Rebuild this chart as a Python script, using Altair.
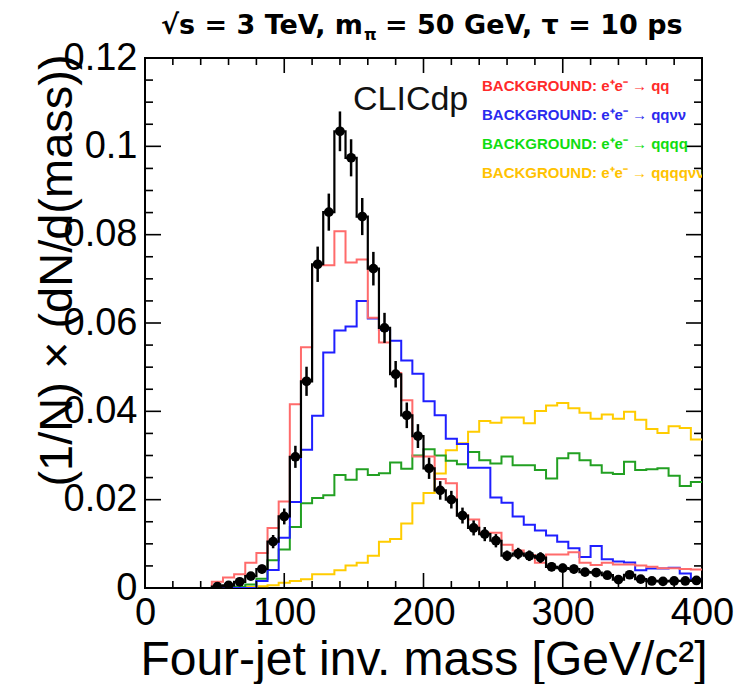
import altair as alt
import pandas as pd

# ---------------- data (8 GeV bins, 0..400) ----------------
bin_edges = [8 * i for i in range(50)]

signal = [0, 0, 0, 0, 0, 0, 0.0003, 0.0006, 0.0014, 0.0027,
          0.0043, 0.0105, 0.0162, 0.0297, 0.0468, 0.0733, 0.0851, 0.1034, 0.0974, 0.0841,
          0.0723, 0.0589, 0.0484, 0.0391, 0.0344, 0.0271, 0.0221, 0.0200, 0.0164, 0.0136,
          0.0122, 0.0107, 0.0073, 0.0078, 0.0073, 0.0069, 0.0048, 0.0045, 0.0043, 0.0036,
          0.0035, 0.0029, 0.0019, 0.0030, 0.0020, 0.0016, 0.0015, 0.0016, 0.0016, 0.0017]
signal_err = [0, 0, 0, 0, 0, 0, 0.0003, 0.0004, 0.0006, 0.0008,
              0.0010, 0.0015, 0.0018, 0.0025, 0.0033, 0.0040, 0.0042, 0.0045, 0.0042, 0.0042,
              0.0038, 0.0034, 0.0030, 0.0029, 0.0027, 0.0024, 0.0021, 0.0020, 0.0018, 0.0017,
              0.0016, 0.0015, 0.0012, 0.0013, 0.0012, 0.0012, 0.0010, 0.0010, 0.0010, 0.0009,
              0.0009, 0.0008, 0.0007, 0.0008, 0.0007, 0.0006, 0.0006, 0.0006, 0.0006, 0.0006]
bkg_qq = [0, 0, 0, 0, 0, 0, 0.0014, 0.0024, 0.0031, 0.0057,
          0.0079, 0.0136, 0.0196, 0.0416, 0.0545, 0.0731, 0.0731, 0.0808, 0.0737, 0.0744,
          0.0612, 0.0556, 0.0487, 0.0425, 0.0298, 0.0298, 0.0247, 0.0237, 0.0165, 0.0155,
          0.0125, 0.0125, 0.0098, 0.0085, 0.0075, 0.0057, 0.0076, 0.0076, 0.0081, 0.0057,
          0.0052, 0.0057, 0.0053, 0.0053, 0.0051, 0.0048, 0.0045, 0.0045, 0.0043, 0.0042]
bkg_qqnn = [0, 0, 0, 0, 0, 0, 0, 0, 0, 0,
            0.0016, 0.0041, 0.0114, 0.0195, 0.0313, 0.0390, 0.0533, 0.0583, 0.0592, 0.0650,
            0.0610, 0.0585, 0.0560, 0.0515, 0.0485, 0.0423, 0.0391, 0.0338, 0.0326, 0.0272,
            0.0272, 0.0205, 0.0193, 0.0162, 0.0143, 0.0130, 0.0119, 0.0105, 0.0090, 0.0070,
            0.0095, 0.0065, 0.0060, 0.0058, 0.0040, 0.0044, 0.0044, 0.0046, 0.0033, 0.0020]
bkg_qqqq = [0, 0, 0, 0, 0, 0, 0, 0, 0.0003, 0.0008,
            0.0021, 0.0063, 0.0087, 0.0138, 0.0192, 0.0204, 0.0210, 0.0256, 0.0245, 0.0269,
            0.0256, 0.0260, 0.0284, 0.0270, 0.0300, 0.0314, 0.0300, 0.0288, 0.0280, 0.0308,
            0.0289, 0.0282, 0.0298, 0.0278, 0.0278, 0.0267, 0.0248, 0.0294, 0.0305, 0.0289,
            0.0278, 0.0261, 0.0258, 0.0286, 0.0267, 0.0269, 0.0271, 0.0254, 0.0231, 0.0240]
bkg_qqqqnn = [0, 0, 0, 0, 0, 0, 0, 0, 0.0002, 0.0003,
              0.0004, 0.0006, 0.0012, 0.0016, 0.0020, 0.0031, 0.0031, 0.0040, 0.0051, 0.0057,
              0.0073, 0.0105, 0.0111, 0.0146, 0.0192, 0.0215, 0.0259, 0.0312, 0.0328, 0.0354,
              0.0378, 0.0374, 0.0386, 0.0386, 0.0373, 0.0401, 0.0413, 0.0419, 0.0407, 0.0397,
              0.0383, 0.0393, 0.0383, 0.0399, 0.0381, 0.0360, 0.0351, 0.0366, 0.0362, 0.0336]

x_ticks_major = [0, 100, 200, 300, 400]
x_ticks_minor = [20, 40, 60, 80, 120, 140, 160, 180, 220, 240, 260, 280, 320, 340, 360, 380]
y_ticks_major = [0, 0.02, 0.04, 0.06, 0.08, 0.1, 0.12]
y_ticks_minor = [0.005, 0.01, 0.015, 0.025, 0.03, 0.035, 0.045, 0.05, 0.055,
                 0.065, 0.07, 0.075, 0.085, 0.09, 0.095, 0.105, 0.11, 0.115]

legend_labels = ["BACKGROUND: e⁺e⁻ → qq", "BACKGROUND: e⁺e⁻ → qqνν",
                 "BACKGROUND: e⁺e⁻ → qqqq", "BACKGROUND: e⁺e⁻ → qqqqνν"]
legend_colors = ["#ff2a2a", "#2a2aee", "#10dd10", "#ffc200"]

# ---------------- layout ----------------
W, H = 557, 530
FONT = "Liberation Sans"

xs = alt.Scale(domain=[0, 400], nice=False, zero=False)
ys = alt.Scale(domain=[0, 0.12], nice=False)

xaxis = alt.Axis(values=x_ticks_major, ticks=False, tickSize=0, domain=False, grid=False,
                 labelFont=FONT, labelFontSize=38, labelColor="black", labelPadding=6,
                 labelFlush=False, labelOverlap=False,
                 title="Four-jet inv. mass [GeV/c²]", titleFont=FONT, titleFontSize=48,
                 titleFontWeight="normal", titleColor="black", titleX=W / 2, titleY=86,
                 titleAlign="center", titleBaseline="alphabetic")
yaxis = alt.Axis(values=y_ticks_major, format=".2~f", ticks=False, tickSize=0, domain=False,
                 grid=False, labelFont=FONT, labelFontSize=38, labelColor="black",
                 labelPadding=8, labelFlush=False, labelOverlap=False,
                 title="(1/N) × (dN/d(mass))", titleFont=FONT, titleFontSize=47,
                 titleFontWeight="normal", titleColor="black", titleX=-74, titleY=212,
                 titleAngle=270, titleAlign="center", titleBaseline="alphabetic")


def step_df(vals):
    return pd.DataFrame({"m": bin_edges + [400], "v": vals + [vals[-1]]})


def hist(vals, color, width):
    return alt.Chart(step_df(vals)).mark_line(
        interpolate="step-after", color=color, strokeWidth=width, clip=True
    ).encode(x=alt.X("m:Q", scale=xs, axis=xaxis), y=alt.Y("v:Q", scale=ys, axis=yaxis))


layers = [
    hist(bkg_qqqqnn, "#ffcc00", 2),
    hist(bkg_qqqq, "#22a022", 2),
    hist(bkg_qqnn, "#1f1fff", 2),
    hist(bkg_qq, "#ff6b6b", 2),
    hist(signal, "black", 2.2),
]

pts = pd.DataFrame({
    "c": [e + 4 for e in bin_edges],
    "v": signal,
    "lo": [s - e for s, e in zip(signal, signal_err)],
    "hi": [s + e for s, e in zip(signal, signal_err)],
})
pts = pts[pts["v"] > 0]

layers.append(alt.Chart(pts).mark_rule(color="black", strokeWidth=2.5, clip=True).encode(
    x=alt.X("c:Q", scale=xs, axis=xaxis), y=alt.Y("lo:Q", scale=ys, axis=yaxis), y2="hi:Q"))
layers.append(alt.Chart(pts).mark_circle(color="black", size=95, opacity=1, clip=True).encode(
    x=alt.X("c:Q", scale=xs, axis=xaxis), y=alt.Y("v:Q", scale=ys, axis=yaxis)))

# ---------------- inner ticks (ROOT style) ----------------
def yticks(vals, length):
    df = pd.DataFrame({"t": vals})
    left = alt.Chart(df).mark_rule(color="black", strokeWidth=1.6).encode(
        y=alt.Y("t:Q", scale=ys, axis=yaxis), x=alt.value(0), x2=alt.value(length))
    right = alt.Chart(df).mark_rule(color="black", strokeWidth=1.6).encode(
        y=alt.Y("t:Q", scale=ys, axis=yaxis), x=alt.value(W), x2=alt.value(W - length))
    return [left, right]


def xticks(vals, length):
    df = pd.DataFrame({"t": vals})
    bottom = alt.Chart(df).mark_rule(color="black", strokeWidth=1.6).encode(
        x=alt.X("t:Q", scale=xs, axis=xaxis), y=alt.value(H), y2=alt.value(H - length))
    top = alt.Chart(df).mark_rule(color="black", strokeWidth=1.6).encode(
        x=alt.X("t:Q", scale=xs, axis=xaxis), y=alt.value(0), y2=alt.value(length))
    return [bottom, top]


layers += yticks(y_ticks_major, 16) + yticks(y_ticks_minor, 8)
layers += xticks(x_ticks_major, 15) + xticks(x_ticks_minor, 7)

# ---------------- texts ----------------
one = pd.DataFrame({"a": [0]})


def label(text, x, y, size, color="black", weight="normal", align="left", font=FONT, clip=False):
    return alt.Chart(one).mark_text(
        text=text, align=align, baseline="alphabetic", font=font, fontSize=size,
        fontWeight=weight, color=color, clip=clip
    ).encode(x=alt.value(x), y=alt.value(y))


layers.append(label("CLICdp", 208, 52, 34, color="#111111"))
for i, (t, c) in enumerate(zip(legend_labels, legend_colors)):
    layers.append(label(t, 337, 33 + 29 * i, 15, color=c, weight="bold", clip=True))

TF = "DejaVu Sans"
layers.append(label("√s = 3 TeV, m", 218, -24, 27, weight="bold", align="right", font=TF))
layers.append(label("π", 219, -18, 16, weight="bold", font=TF))
layers.append(label("= 50 GeV, τ = 10 ps", 240, -24, 27, weight="bold", font=TF))

chart = alt.layer(*layers).properties(
    width=W, height=H,
    autosize=alt.AutoSizeParams(type="none"),
    padding={"left": 137, "top": 50, "right": 32, "bottom": 96},
    background="white",
).configure_view(stroke="black", strokeWidth=2)

chart.save("out.html", embed_options={"renderer": "svg", "actions": False})
